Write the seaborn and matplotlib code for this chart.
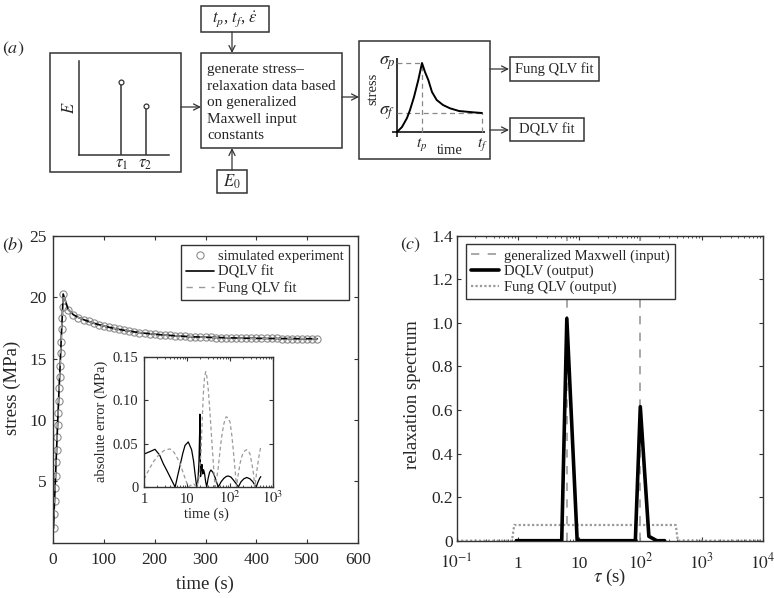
import numpy as np
import pandas as pd
import matplotlib
matplotlib.use('Agg')
import matplotlib.pyplot as plt
import seaborn as sns
from matplotlib.patches import Rectangle
from matplotlib.ticker import NullFormatter

# ---------------- data ----------------
# (a) schematic generalized Maxwell spectrum (arbitrary units)
stem_tau = [0.47, 0.74]
stem_E = [0.78, 0.52]
stem_labels = [r'$\tau_1$', r'$\tau_2$']

# (a) schematic stress-relaxation curve (arbitrary units)
sketch_t = [0, 5, 10, 13, 17, 21.3, 25, 28, 31.3, 35, 39.7, 46, 53, 62, 76, 85]
sketch_s = [0, 5, 14, 22, 35, 52, 69, 60, 52, 40, 32, 27, 23.7, 21, 19.7, 19]

mid_lines = ['generate stress\u2013', 'relaxation data based', 'on generalized',
             'Maxwell input', 'constants']

# (b) simulated experiment (s, MPa)
exp_t = [1, 2, 3, 4, 5, 6, 7, 8, 9, 10, 11, 12, 13, 14, 15, 16, 17, 18, 19, 20,
         30, 40, 50, 60, 70, 80, 90, 100, 110, 120, 130, 140, 150, 160, 170, 180,
         190, 200, 210, 220, 230, 240, 250, 260, 270, 280, 290, 300, 310, 320,
         330, 340, 350, 360, 370, 380, 390, 400, 410, 420, 430, 440, 450, 460,
         470, 480, 490, 500, 510, 520]
exp_s = [1.16, 2.30, 3.38, 4.42, 5.42, 6.54, 7.54, 8.58, 9.58, 10.59, 11.57, 12.58,
         13.47, 14.42, 15.43, 16.38, 17.41, 18.28, 19.18, 20.27,
         19.00, 18.58, 18.35, 18.18, 18.03, 17.89, 17.77, 17.66, 17.56, 17.46,
         17.38, 17.31, 17.24, 17.18, 17.12, 17.07, 17.03, 16.99, 16.95, 16.92,
         16.89, 16.86, 16.84, 16.81, 16.79, 16.77, 16.76, 16.74, 16.73, 16.72,
         16.71, 16.70, 16.69, 16.68, 16.67, 16.66, 16.66, 16.65, 16.65, 16.64,
         16.64, 16.64, 16.63, 16.63, 16.63, 16.62, 16.62, 16.62, 16.62, 16.62]
dqlv_fit = exp_s   # fits coincide with the data at this scale
fung_fit = exp_s

# (b) inset: absolute error (MPa)
err_dqlv_t = [1.0, 1.4, 1.8, 2.3, 2.8, 3.4, 4.0, 4.7, 5.3,
              6.0, 6.9, 8.0, 9.0, 10.7, 12.8, 14.2, 15.3, 16.8,
              18.0, 19.0, 19.6, 20.0, 20.3, 20.7, 21.5, 22.3, 23.3, 24.3, 25.5, 27.0, 28.7,
              31, 33.5, 36, 40, 45, 50, 53.5,
              62, 72, 82, 91, 105, 120, 138, 156,
              180, 210, 245, 290, 340, 380, 406,
              450, 490, 520]
err_dqlv = [0.038, 0.041, 0.0435, 0.037, 0.027, 0.019, 0.012, 0.005, 0.0,
            0.012, 0.025, 0.039, 0.048, 0.052, 0.043, 0.030, 0.016, 0.0,
            0.008, 0.030, 0.060, 0.084, 0.045, 0.012, 0.022, 0.026, 0.015, 0.020, 0.016, 0.007, 0.0,
            0.010, 0.017, 0.0196, 0.017, 0.011, 0.004, 0.0,
            0.006, 0.010, 0.0122, 0.0127, 0.0115, 0.008, 0.004, 0.0,
            0.006, 0.0095, 0.011, 0.0095, 0.006, 0.002, 0.0,
            0.006, 0.010, 0.012]
err_fung_t = [1.0, 1.3, 1.7, 2.2, 2.9, 4.0, 5.0, 6.0, 6.9, 8.2, 9.5, 10.7,
              14, 17, 19, 21.2, 22.5, 24, 25.5, 27.2, 29, 31.3, 34, 37.6, 41, 44.8,
              49, 53.6, 58, 64, 72, 81, 90, 100, 110, 119, 130, 142,
              155, 171, 188, 204, 225, 245, 268, 292, 320, 350, 380,
              400, 430, 460, 490, 520]
err_fung = [0.009, 0.020, 0.030, 0.037, 0.042, 0.044, 0.040, 0.033, 0.027, 0.016, 0.007, 0.0,
            0.004, 0.0, 0.010, 0.040, 0.075, 0.108, 0.126, 0.133, 0.127, 0.112, 0.088, 0.055, 0.027, 0.0,
            0.010, 0.023, 0.040, 0.058, 0.073, 0.081, 0.080, 0.075, 0.060, 0.043, 0.022, 0.0,
            0.014, 0.027, 0.035, 0.040, 0.042, 0.043, 0.042, 0.038, 0.028, 0.016, 0.0,
            0.010, 0.022, 0.032, 0.040, 0.0465]

# (c) relaxation spectra
maxwell_tau = [6.3, 100]
dqlv_tau = [0.94, 5.2, 6.3, 9.3, 83, 100, 138, 186, 250]
dqlv_spec = [0, 0, 1.02, 0, 0, 0.615, 0.02, 0, 0]
fung_tau = [0.1, 0.80, 0.87, 380, 410, 10000]
fung_spec = [0, 0, 0.072, 0.072, 0, 0]

b_xticks = [0, 100, 200, 300, 400, 500, 600]
b_yticks = [5, 10, 15, 20, 25]
in_xticks = [1, 10, 100, 1000]
in_xlabels = ['1', '10', r'$10^2$', r'$10^3$']
in_yticks = [0, 0.05, 0.10, 0.15]
in_ylabels = ['0', '0.05', '0.10', '0.15']
c_xticks = [0.1, 1, 10, 100, 1000, 10000]
c_xlabels = [r'$10^{-1}$', '1', '10', r'$10^2$', r'$10^3$', r'$10^4$']
c_yticks = [0, 0.2, 0.4, 0.6, 0.8, 1.0, 1.2, 1.4]
c_ylabels = ['0', '0.2', '0.4', '0.6', '0.8', '1.0', '1.2', '1.4']

# ---------------- style ----------------
sns.set_style('ticks')
plt.rcParams['font.family'] = ['Liberation Serif', 'DejaVu Serif']
plt.rcParams['mathtext.fontset'] = 'stix'
plt.rcParams['axes.unicode_minus'] = True

EC = '#333333'
GRAY = '#9a9a9a'
W, H = 774, 598
fig = plt.figure(figsize=(W / 100, H / 100), dpi=100, facecolor='white')


def px_axes(l, t, r, b):
    return fig.add_axes([l / W, 1 - b / H, (r - l) / W, (b - t) / H])


def style_box(ax, lw=1.0):
    for sp in ax.spines.values():
        sp.set_visible(True)
        sp.set_color(EC)
        sp.set_linewidth(lw)


# ---------------- (a) schematic ----------------
axd = fig.add_axes([0, 0, 1, 1])
axd.set_xlim(0, W)
axd.set_ylim(H, 0)
axd.axis('off')

boxes = [(50, 53, 181, 172), (201, 53, 342, 148), (201, 6, 269, 32), (217, 170, 247, 193),
         (359, 41, 490, 159), (510, 57, 599, 81), (510, 118, 584, 141)]
for (l, t, r, b) in boxes:
    axd.add_patch(Rectangle((l, t), r - l, b - t, fill=False, ec=EC, lw=1.1))


def arrow(x1, y1, x2, y2):
    axd.annotate('', xy=(x2, y2), xytext=(x1, y1),
                 arrowprops=dict(arrowstyle='->', color=EC, lw=0.9, shrinkA=0, shrinkB=0,
                                 mutation_scale=11))


arrow(181, 107, 201, 107)
arrow(232, 32, 232, 53)
arrow(232, 170, 232, 148)
arrow(342, 97, 359, 97)
arrow(490, 69, 509, 69)
arrow(490, 130, 509, 130)

axd.text(2, 49, r'$(a)$', fontsize=13, va='center', ha='left')
axd.text(2, 245, r'$(b)$', fontsize=13, va='center', ha='left')
axd.text(400, 245, r'$(c)$', fontsize=13, va='center', ha='left')

for i, s in enumerate(mid_lines):
    axd.text(207, 73 + 16.5 * i, s, fontsize=11, va='baseline', ha='left')
axd.text(235, 19, r'$t_p$, $t_f$, $\dot{\varepsilon}$', fontsize=12, ha='center', va='center')
axd.text(232, 181.5, r'$E_0$', fontsize=12, ha='center', va='center')
axd.text(554.5, 69, 'Fung QLV fit', fontsize=10.5, ha='center', va='center')
axd.text(547, 129.5, 'DQLV fit', fontsize=10.5, ha='center', va='center')

# stem plot inside first box
axe = px_axes(79, 61, 169, 155)
axe.patch.set_alpha(0)
axe.set_xlim(0, 1)
axe.set_ylim(0, 1)
axe.vlines(stem_tau, 0, stem_E, color=EC, lw=1.1)
axe.plot(stem_tau, stem_E, 'o', mfc='white', mec=EC, ms=3.5, mew=0.9)
for k in ['top', 'right']:
    axe.spines[k].set_visible(False)
for k in ['left', 'bottom']:
    axe.spines[k].set_color(EC)
    axe.spines[k].set_linewidth(1.1)
axe.set_xticks(stem_tau)
axe.set_xticklabels(stem_labels, fontsize=12)
axe.set_yticks([])
axe.tick_params(axis='x', length=0, pad=1)
axe.text(-9 / 90, 0.5, r'$E$', rotation=90, fontsize=12, ha='center', va='center',
         transform=axe.transAxes)

# stress sketch inside third box
axs = px_axes(392, 58, 485, 137)
axs.set_xlim(-5, 88)
axs.set_ylim(-5, 74)
axs.axis('off')
axs.axhline(0, color='k', lw=1.1)
axs.axvline(0, color='k', lw=1.1)
ip = int(np.argmax(sketch_s))
tp, sp_ = sketch_t[ip], sketch_s[ip]
tf, sf = sketch_t[-1], sketch_s[-1]
dash_kw = dict(color='#888888', lw=0.9, ls=(0, (4, 3)))
axs.plot([0, tp], [sp_, sp_], **dash_kw)
axs.plot([tp, tp], [0, sp_], **dash_kw)
axs.plot([0, tf], [sf, sf], **dash_kw)
axs.plot([tf, tf], [0, sf], **dash_kw)
sns.lineplot(x=sketch_t, y=sketch_s, ax=axs, color='k', lw=1.4, estimator=None, sort=False)
axs.text(-10, sp_, r'$\sigma_p$', fontsize=13, ha='center', va='center')
axs.text(-10, sf, r'$\sigma_f$', fontsize=13, ha='center', va='center')
axs.text(-24, 43, 'stress', rotation=90, fontsize=10.5, ha='center', va='center')
axs.text(tp, -13, r'$t_p$', fontsize=11, ha='center', va='center')
axs.text(53, -18, 'time', fontsize=10.5, ha='center', va='center')
axs.text(tf, -13, r'$t_f$', fontsize=11, ha='center', va='center')

# ---------------- (b) ----------------
axb = px_axes(53, 236, 358, 542.5)
sns.lineplot(x=exp_t, y=exp_s, ax=axb, marker='o', linestyle='', markerfacecolor='none',
             markeredgecolor='#8c8c8c', markersize=5.2, markeredgewidth=0.8,
             estimator=None, sort=False, label='simulated experiment', legend=False)
sns.lineplot(x=exp_t, y=dqlv_fit, ax=axb, color='black', lw=1.2, estimator=None, sort=False,
             label='DQLV fit', legend=False)
sns.lineplot(x=exp_t, y=fung_fit, ax=axb, color=GRAY, lw=1.0, linestyle=(0, (4.5, 4.5)),
             estimator=None, sort=False, label='Fung QLV fit', legend=False)
axb.set_xlim(0, 600)
axb.set_ylim(0, 25)
axb.set_xticks(b_xticks)
axb.set_yticks(b_yticks)
axb.set_xlabel('')
axb.set_ylabel('')
style_box(axb)
axb.tick_params(direction='in', top=True, right=True, length=3, width=0.8, color=EC,
                labelsize=12.5)
axb.tick_params(axis='x', pad=6.5)
axb.tick_params(axis='y', pad=4.5)
axb.text(-0.1344, 0.504, 'stress (MPa)', rotation=90, fontsize=13.5, ha='center', va='center',
         transform=axb.transAxes)
axb.text(0.498, -0.135, 'time (s)', fontsize=13.5, ha='center', va='center',
         transform=axb.transAxes)
h, l = axb.get_legend_handles_labels()
legb = axb.legend(h, l, loc='upper right', bbox_to_anchor=(0.9705, 0.9706), borderaxespad=0,
                  frameon=True, fancybox=False, edgecolor=EC, framealpha=1, fontsize=10.5,
                  borderpad=0.35, labelspacing=0.15, handlelength=1.9, handletextpad=0.3)
legb.get_frame().set_linewidth(1.0)

# inset
axi = px_axes(144, 357, 273, 487)
axi.set_xscale('log')
sns.lineplot(x=err_dqlv_t, y=err_dqlv, ax=axi, color='black', lw=0.9, estimator=None, sort=False)
sns.lineplot(x=err_fung_t, y=err_fung, ax=axi, color=GRAY, lw=0.9, linestyle=(0, (3, 2.2)),
             estimator=None, sort=False)
axi.set_xlim(1, 1000)
axi.set_ylim(0, 0.15)
axi.set_xlabel('')
axi.set_ylabel('')
axi.set_yticks(in_yticks)
axi.set_yticklabels(in_ylabels)
axi.set_xticks(in_xticks)
axi.xaxis.set_major_formatter(NullFormatter())
axi.xaxis.set_minor_formatter(NullFormatter())
style_box(axi)
axi.tick_params(which='major', direction='in', top=True, right=True, length=2.8, width=0.8,
                color=EC, labelsize=10.5, pad=4)
axi.tick_params(which='minor', direction='in', top=True, length=1.5, width=0.6, color=EC)
for v, s in zip(in_xticks, in_xlabels):
    axi.text(v, -0.125, s, fontsize=10.5, ha='center', va='baseline',
             transform=axi.get_xaxis_transform())
axi.text(-0.328, 0.502, 'absolute error (MPa)', rotation=90, fontsize=10.5, ha='center',
         va='center', transform=axi.transAxes)
axi.text(0.486, -0.208, 'time (s)', fontsize=10.5, ha='center', va='center',
         transform=axi.transAxes)

# ---------------- (c) ----------------
axc = px_axes(456.7, 235.7, 762.7, 540.7)
axc.set_xscale('log')
for i, tau in enumerate(maxwell_tau):
    axc.axvline(tau, color=GRAY, lw=1.2, ls=(0, (5, 5)), zorder=1,
                label='generalized Maxwell (input)' if i == 0 else '_nolegend_')
sns.lineplot(x=dqlv_tau, y=dqlv_spec, ax=axc, color='black', lw=2.6, estimator=None, sort=False,
             label='DQLV (output)', legend=False, zorder=3)
sns.lineplot(x=fung_tau, y=fung_spec, ax=axc, color=GRAY, lw=1.6, linestyle=(0, (1, 1)),
             estimator=None, sort=False, label='Fung QLV (output)', legend=False, zorder=2)
axc.set_xlim(0.1, 10000)
axc.set_ylim(0, 1.4)
axc.set_xlabel('')
axc.set_ylabel('')
axc.set_yticks(c_yticks)
axc.set_yticklabels(c_ylabels)
axc.set_xticks(c_xticks)
axc.xaxis.set_major_formatter(NullFormatter())
axc.xaxis.set_minor_formatter(NullFormatter())
style_box(axc)
axc.tick_params(which='major', direction='in', top=True, right=True, length=3, width=0.8,
                color=EC, labelsize=12.5)
axc.tick_params(which='minor', direction='in', top=True, length=1.6, width=0.6, color=EC)
axc.tick_params(axis='y', pad=2.5)
for v, s in zip(c_xticks, c_xlabels):
    axc.text(v, -0.091, s, fontsize=12.5, ha='center', va='baseline',
             transform=axc.get_xaxis_transform())
axc.text(-0.146, 0.478, 'relaxation spectrum', rotation=90, fontsize=13.5, ha='center',
         va='center', transform=axc.transAxes)
axc.text(0.501, -0.122, r'$\tau$ (s)', fontsize=13.5, ha='center', va='center',
         transform=axc.transAxes)
h, l = axc.get_legend_handles_labels()
legc = axc.legend(h, l, loc='upper left', bbox_to_anchor=(0.030, 0.973), borderaxespad=0,
                  frameon=True, fancybox=False, edgecolor=EC, framealpha=1, fontsize=10.5,
                  borderpad=0.35, labelspacing=0.15, handlelength=1.95, handletextpad=0.3)
legc.get_frame().set_linewidth(1.0)

fig.savefig('out.png', dpi=100, facecolor='white')
